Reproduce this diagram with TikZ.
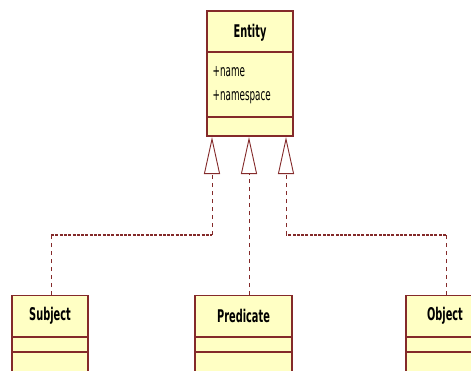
\documentclass[tikz,border=0pt]{standalone}
\usepackage{fontspec}
\setmainfont{DejaVu Sans}
\newfontfamily\umltitlefont[FakeStretch=0.56]{DejaVu Sans}
\newfontfamily\umlattrfont[FakeStretch=0.55]{DejaVu Sans}
\usetikzlibrary{arrows.meta}
\definecolor{umlline}{HTML}{842A2A}
\definecolor{umlfill}{HTML}{FFFFC4}
\tikzset{
  umlclass/.style={draw=umlline, fill=umlfill, line width=1.1pt, rectangle, inner sep=0pt},
  divider/.style={draw=umlline, line width=1.1pt},
  title/.style={font=\umltitlefont\bfseries\fontsize{17.5}{19}\selectfont, text=black},
  attr/.style={font=\umlattrfont\fontsize{16}{17}\selectfont, text=black, anchor=west, inner sep=0pt},
  vdash/.style={draw=umlline, line width=0.9pt, dash pattern=on 4pt off 4pt},
  hdash/.style={draw=umlline, line width=1.2pt, dash pattern=on 3pt off 1.3pt},
  inherit/.style={vdash, -{Triangle[open, length=37pt, width=16pt, fill=white, line width=0.9pt]}}
}
\begin{document}
\begin{tikzpicture}[x=1pt, y=-1pt]
\useasboundingbox (0,0) rectangle (471,370);
\clip (0,0) rectangle (471,370);

% superclass
\node[umlclass, minimum width=86pt, minimum height=125pt] (entity) at (250,73.5) {};
\draw[divider] (207,52) -- (293,52);
\draw[divider] (207,117) -- (293,117);
\node[title] (entityname) at (250,33) {Entity};
\node[attr] (a1) at (212.5,72) {+name};
\node[attr] (a2) at (212.5,97.5) {+namespace};

% subclasses
\node[umlclass, minimum width=76pt, minimum height=110pt, anchor=north] (subject) at (50,295) {};
\draw[divider] (12,337) -- (88,337);
\draw[divider] (12,352) -- (88,352);
\node[title] (subjectname) at (50,316) {Subject};

\node[umlclass, minimum width=97pt, minimum height=110pt, anchor=north] (predicate) at (243.5,295) {};
\draw[divider] (195,337) -- (292,337);
\draw[divider] (195,352) -- (292,352);
\node[title] (predicatename) at (243.5,316) {Predicate};

\node[umlclass, minimum width=84pt, minimum height=110pt, anchor=north] (object) at (448,295) {};
\draw[divider] (406,337) -- (490,337);
\draw[divider] (406,352) -- (490,352);
\node[title] (objectname) at (445,316) {Object};

% generalisation connectors
\coordinate (tipL) at (212,137);
\coordinate (tipM) at (249,137);
\coordinate (tipR) at (286,137);
\coordinate (bendL1) at (51,235);
\coordinate (bendL2) at (212,235);
\coordinate (bendR1) at (446,235);
\coordinate (bendR2) at (286,235);

\draw[vdash] (subject.north -| bendL1) -- (bendL1);
\draw[hdash] (bendL1) -- (bendL2);
\draw[inherit] (bendL2) -- (tipL);

\draw[inherit] (predicate.north -| tipM) -- (tipM);

\draw[vdash] (object.north -| bendR1) -- (bendR1);
\draw[hdash] (bendR1) -- (bendR2);
\draw[inherit] (bendR2) -- (tipR);
\end{tikzpicture}
\end{document}
